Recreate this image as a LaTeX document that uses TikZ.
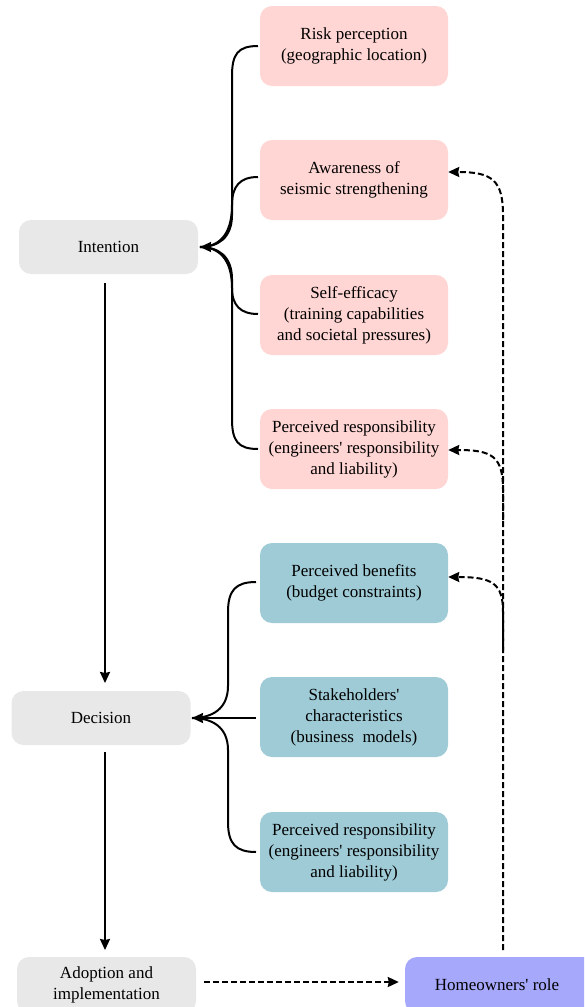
\documentclass[tikz,border=0pt]{standalone}
\usepackage{fontspec}
\setmainfont{Liberation Serif}[Ligatures=TeXOff]
\usetikzlibrary{arrows.meta}
\definecolor{pinkbox}{HTML}{FFD6D4}
\definecolor{bluebox}{HTML}{9FCBD6}
\definecolor{graybox}{HTML}{E8E8E8}
\definecolor{violetbox}{HTML}{A6A8FC}
\begin{document}
\begin{tikzpicture}[x=1pt,y=-1pt,
  base/.style={rounded corners=12pt, align=center, inner sep=0pt,
    font=\fontsize{17}{21}\selectfont},
  factor/.style={base, minimum width=188pt, minimum height=80pt},
  pinkfac/.style={factor, fill=pinkbox},
  bluefac/.style={factor, fill=bluebox},
  stage/.style={base, fill=graybox, minimum width=179pt, minimum height=54pt},
  arr/.style={-{Stealth[length=11pt,width=10pt,inset=1pt]}, line width=2pt},
  darr/.style={arr, dash pattern=on 6pt off 3pt},
  brace/.style={line width=2pt}]
\useasboundingbox (0,0) rectangle (584,1007);
\clip (0,0) rectangle (584,1007);

% factor boxes
\node[pinkfac] (b1) at (354,46) {Risk perception\\(geographic location)};
\node[pinkfac] (b2) at (354,180) {Awareness of\\seismic strengthening};
\node[pinkfac] (b3) at (354,315) {Self-efficacy\\(training capabilities\\and societal pressures)};
\node[pinkfac] (b4) at (354,449) {Perceived responsibility\\(engineers' responsibility\\and liability)};
\node[bluefac] (b5) at (354,583) {Perceived benefits\\(budget constraints)};
\node[bluefac] (b6) at (354,717) {Stakeholders'\\characteristics\\(business\ \ models)};
\node[bluefac] (b7) at (354,852) {Perceived responsibility\\(engineers' responsibility\\and liability)};

% stages
\node[stage] (int) at (108.5,247) {Intention};
\node[stage] (dec) at (101,718) {Decision};
\node[stage, minimum height=56pt] (ado) at (106.5,985) {\raisebox{2pt}{\shortstack{Adoption and\\[3pt]implementation}}};
\node[base, fill=violetbox, minimum width=190pt, minimum height=56pt] (hom) at (500,985) {\hspace*{-6pt}Homeowners' role};

% main flow
\draw[arr] (105,283) -- (105,683);
\draw[arr] (105,752) -- (105,950);

% braces to Intention
\coordinate (it) at (200,247);
\draw[brace] (258,46) .. controls (238,46) and (232,54) .. (232,76) -- (232,215) .. controls (232,238) and (218,247) .. (it);
\draw[brace] (258,177) .. controls (240,177) and (232,186) .. (232,205) .. controls (232,236) and (218,247) .. (it);
\draw[brace] (258,314) .. controls (240,314) and (232,305) .. (232,288) .. controls (232,258) and (218,247) .. (it);
\draw[brace] (258,449) .. controls (238,449) and (232,441) .. (232,419) -- (232,279) .. controls (232,256) and (218,247) .. (it);
\draw[arr] (208,247) -- (it);

% braces to Decision
\coordinate (dt) at (192,718);
\draw[brace] (256,582) .. controls (236,582) and (228,590) .. (228,612) -- (228,686) .. controls (228,709) and (212,718) .. (dt);
\draw[brace] (256,852) .. controls (236,852) and (228,844) .. (228,822) -- (228,750) .. controls (228,727) and (212,718) .. (dt);
\draw[arr] (256,718) -- (dt);

% dashed feedback
\coordinate (v0) at (503,950);
\draw[darr] ([xshift=8pt,yshift=3pt]ado.east) -- ([xshift=-6pt,yshift=3pt]hom.west);
\draw[darr] (v0) -- (503,215) .. controls (503,180) and (492,172) .. ([yshift=8pt]b2.east);
\draw[darr] (503,520) -- (503,490) .. controls (503,456) and (492,450) .. ([yshift=-1pt]b4.east);
\draw[darr] (503,650) -- (503,612) .. controls (503,583) and (492,577) .. ([yshift=6pt]b5.east);
\end{tikzpicture}
\end{document}
